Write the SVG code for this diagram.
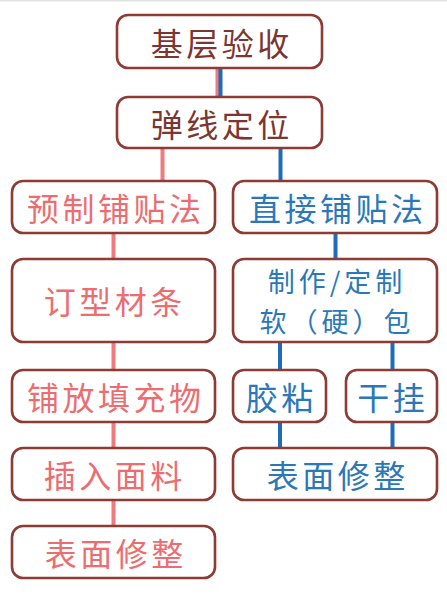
<svg xmlns="http://www.w3.org/2000/svg" width="447" height="600" viewBox="0 0 447 600">
<style>
.box{fill:#fff;stroke:#8e3b33;stroke-width:2.6}
.t{font-family:"Noto Sans CJK SC","Noto Sans",sans-serif;font-size:32px;text-anchor:middle;dominant-baseline:central}
.sm{font-size:27px}
.dk{fill:#7c3530}
.pk{fill:#ec6d70}
.bl{fill:#2a78b8}
.r{stroke:#f07b7d;stroke-width:4;fill:none}
.b{stroke:#1f6cbc;stroke-width:4;fill:none}
</style>
<rect width="447" height="600" fill="#fff"/>
<rect width="447" height="1.5" fill="#e2e2e2"/>
<g id="connectors">
<line class="r" x1="217.5" y1="68" x2="217.5" y2="97" stroke-width="3"/>
<line class="b" x1="220.5" y1="68" x2="220.5" y2="97" stroke-width="3"/>
<line class="r" x1="162.5" y1="148" x2="162.5" y2="181"/>
<line class="b" x1="280.5" y1="148" x2="280.5" y2="181"/>
<line class="r" x1="113.5" y1="233" x2="113.5" y2="259"/>
<line class="r" x1="113.5" y1="342" x2="113.5" y2="370"/>
<line class="r" x1="113.5" y1="422" x2="113.5" y2="448"/>
<line class="r" x1="113.5" y1="500" x2="113.5" y2="526"/>
<line class="b" x1="335.5" y1="233" x2="335.5" y2="259"/>
<line class="b" x1="280" y1="342" x2="280" y2="370"/>
<line class="b" x1="392.5" y1="342" x2="392.5" y2="370"/>
<line class="b" x1="280" y1="422" x2="280" y2="448"/>
<line class="b" x1="392.5" y1="422" x2="392.5" y2="448"/>
</g>
<g id="n1"><rect class="box" x="117" y="15" width="205" height="53" rx="11"/><text class="t dk" x="220" y="42" letter-spacing="3.5" dx="1.75">基层验收</text></g>
<g id="n2"><rect class="box" x="117" y="97" width="205" height="51" rx="11"/><text class="t dk" x="220" y="123" letter-spacing="3.5" dx="1.75">弹线定位</text></g>
<g id="n3"><rect class="box" x="12" y="181" width="203" height="52" rx="11"/><text class="t pk" x="114" y="207" letter-spacing="3.5" dx="1.75">预制铺贴法</text></g>
<g id="n4"><rect class="box" x="233" y="181" width="204" height="52" rx="11"/><text class="t bl" x="336" y="207" letter-spacing="3.5" dx="1.75">直接铺贴法</text></g>
<g id="n5"><rect class="box" x="12" y="259" width="203" height="83" rx="11"/><text class="t pk" x="113" y="300" letter-spacing="3.5" dx="1.75">订型材条</text></g>
<g id="n6"><rect class="box" x="233" y="259" width="204" height="83" rx="11"/><text class="t sm bl" x="335" y="280.5" letter-spacing="4" dx="2">制作/定制</text><text class="t sm bl" x="335" y="320" letter-spacing="4" dx="2">软（硬）包</text></g>
<g id="n7"><rect class="box" x="12" y="370" width="203" height="52" rx="11"/><text class="t pk" x="114" y="396" letter-spacing="3.5" dx="1.75">铺放填充物</text></g>
<g id="n8"><rect class="box" x="233" y="370" width="93" height="52" rx="11"/><text class="t bl" x="279.5" y="396" letter-spacing="3.5" dx="1.75">胶粘</text></g>
<g id="n9"><rect class="box" x="346" y="370" width="91" height="52" rx="11"/><text class="t bl" x="391" y="396" letter-spacing="3.5" dx="1.75">干挂</text></g>
<g id="n10"><rect class="box" x="12" y="448" width="203" height="52" rx="11"/><text class="t pk" x="113" y="474" letter-spacing="3.5" dx="1.75">插入面料</text></g>
<g id="n11"><rect class="box" x="233" y="448" width="204" height="52" rx="11"/><text class="t bl" x="336" y="474" letter-spacing="3.5" dx="1.75">表面修整</text></g>
<g id="n12"><rect class="box" x="12" y="526" width="203" height="52" rx="11"/><text class="t pk" x="114" y="552" letter-spacing="3.5" dx="1.75">表面修整</text></g>
</svg>
